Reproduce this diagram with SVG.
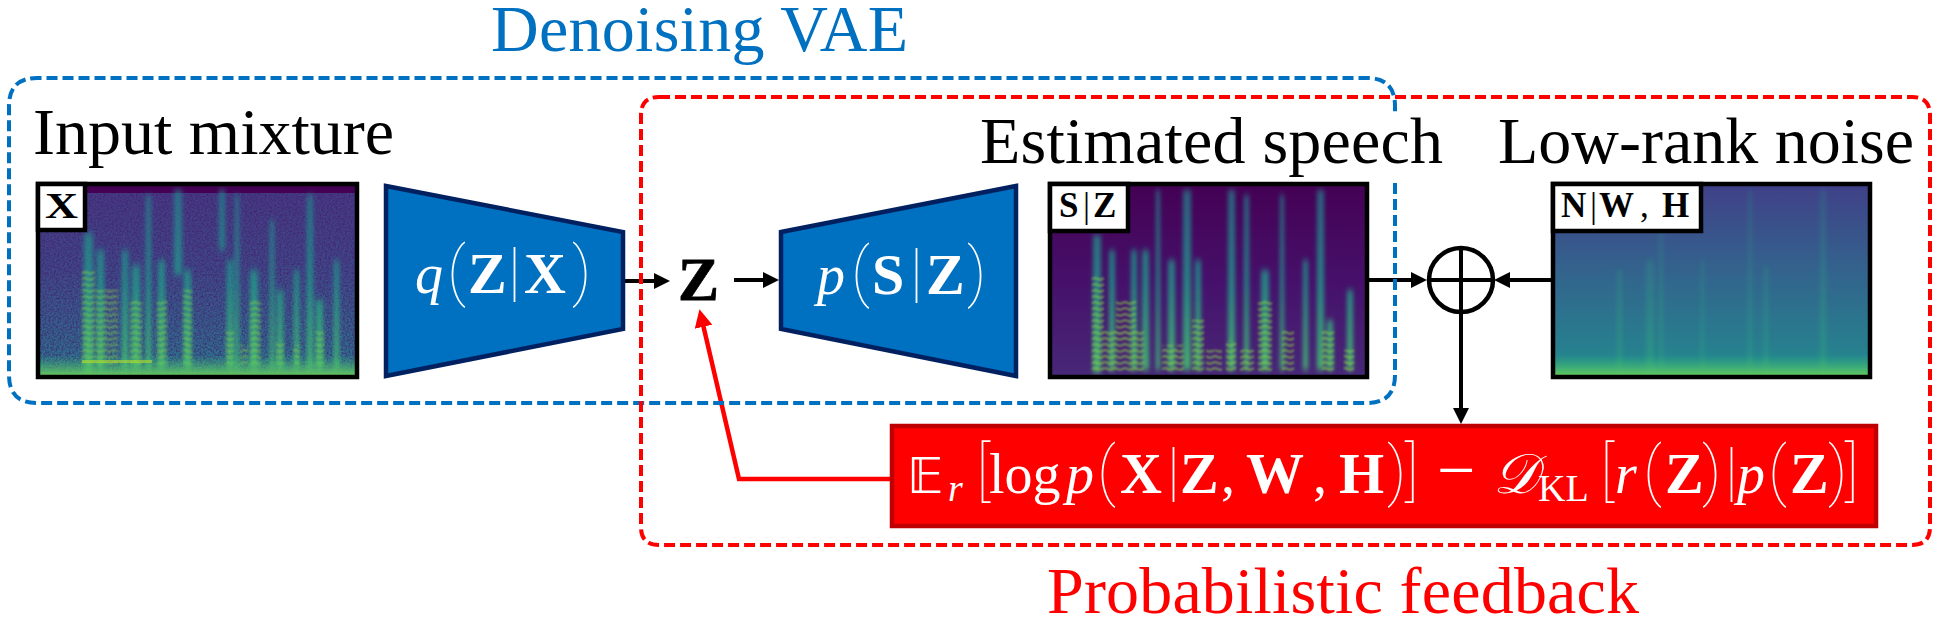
<svg xmlns="http://www.w3.org/2000/svg" width="1938" height="622" viewBox="0 0 1938 622">
<style>
text{font-family:"Liberation Serif","DejaVu Serif",serif}
.t{font-size:66px}
.m{font-size:56px;fill:#fff}
.i{font-style:italic}
.b{font-weight:bold;font-size:58px}
.p{font-family:Roboto,"Liberation Serif",sans-serif;font-weight:100;font-size:64px}
.l{font-size:35px;font-weight:bold}
.frame{fill:none;stroke:#000;stroke-width:4.5}
.tag{fill:#fff;stroke:#000;stroke-width:4.5}
.enc{fill:#0070c0;stroke:#002060;stroke-width:4.5}
.wire{fill:none;stroke:#000;stroke-width:4}
.dash{fill:none;stroke-width:4;stroke-dasharray:11 5}
.s{fill:url(#st)}
.w{fill:url(#st2)}
.h{fill:url(#harm)}
</style>
<defs>
<marker id="ah" markerUnits="userSpaceOnUse" markerWidth="18" markerHeight="18" refX="8" refY="8" orient="auto"><path d="M0,0L16,8L0,16Z" fill="#000"/></marker>
<marker id="ar" markerUnits="userSpaceOnUse" markerWidth="22" markerHeight="20" refX="9" refY="9" orient="auto"><path d="M0,0L18,9L0,18Z" fill="#f00"/></marker>
<linearGradient id="bg1" x1="0" y1="0" x2="0" y2="1"><stop offset="0" stop-color="#443a83"/><stop offset=".45" stop-color="#3e4a89"/><stop offset=".85" stop-color="#2f6c8e"/><stop offset="1" stop-color="#25858e"/></linearGradient>
<linearGradient id="bg2" x1="0" y1="0" x2="0" y2="1"><stop offset="0" stop-color="#440154"/><stop offset=".5" stop-color="#46106a"/><stop offset="1" stop-color="#472878"/></linearGradient>
<linearGradient id="bg3" x1="0" y1="0" x2="0" y2="1"><stop offset="0" stop-color="#404088"/><stop offset=".45" stop-color="#33638d"/><stop offset=".85" stop-color="#277f8e"/><stop offset="1" stop-color="#1f968b"/></linearGradient>
<linearGradient id="st" gradientUnits="userSpaceOnUse" x1="0" y1="184" x2="0" y2="377"><stop offset="0" stop-color="#26828e" stop-opacity=".7"/><stop offset=".5" stop-color="#1f9a8a" stop-opacity=".8"/><stop offset="1" stop-color="#4ac16d" stop-opacity=".9"/></linearGradient>
<linearGradient id="st2" gradientUnits="userSpaceOnUse" x1="0" y1="184" x2="0" y2="377"><stop offset="0" stop-color="#2a788e" stop-opacity=".8"/><stop offset="1" stop-color="#35b779" stop-opacity=".8"/></linearGradient>
<linearGradient id="band" x1="0" y1="0" x2="0" y2="1"><stop offset="0" stop-color="#35b779" stop-opacity="0"/><stop offset="1" stop-color="#6ece58"/></linearGradient>
<pattern id="harm" width="10" height="6" patternUnits="userSpaceOnUse"><path d="M0,4L5,2L10,4" fill="none" stroke="#8fd744" stroke-width="1.800"/></pattern>
<filter id="blur" x="-100%" y="-10%" width="300%" height="120%"><feGaussianBlur stdDeviation="2.2 3"/></filter>
<filter id="soft" x="-20%" y="-5%" width="140%" height="110%"><feGaussianBlur stdDeviation=".8"/></filter>
<filter id="noise" x="0" y="0" width="100%" height="100%" color-interpolation-filters="sRGB"><feTurbulence type="fractalNoise" baseFrequency=".55" numOctaves="2" seed="4"/><feColorMatrix type="matrix" values="0 0 0 0 .27  0 0 0 0 .1  0 0 0 0 .42  1.6 0 0 0 -.55"/></filter>
<clipPath id="c1"><rect x="38" y="184" width="319" height="193"/></clipPath>
<clipPath id="c2"><rect x="1050" y="184" width="317" height="193"/></clipPath>
<clipPath id="c3"><rect x="1553" y="184" width="317" height="193"/></clipPath>
</defs>

<g id="connectors">
<path class="wire" d="M624,281H662" marker-end="url(#ah)"/>
<path class="wire" d="M734,280H771" marker-end="url(#ah)"/>
<path class="wire" d="M1369,280H1419" marker-end="url(#ah)"/>
<path class="wire" d="M1551,280H1502" marker-end="url(#ah)"/>
<path class="wire" d="M1461,313V416" marker-end="url(#ah)"/>
<path d="M890,479H739L701.500,318" fill="none" stroke="#f00" stroke-width="4.500" marker-end="url(#ar)"/>
</g>

<g id="denoising-vae">
<path class="dash" stroke="#0070c0" d="M1395,183V375Q1395,403 1367,403H37Q9,403 9,375V106Q9,78 37,78H1367Q1395,78 1395,106V115"/>
<text class="t" x="491" y="51" fill="#0070c0" textLength="417">Denoising VAE</text>
</g>

<g id="probabilistic-feedback">
<path class="dash" stroke="#f00" d="M659,97H1912Q1930,97 1930,115V527Q1930,545 1912,545H659Q641,545 641,527V115Q641,97 659,97Z"/>
<text class="t" x="1047" y="613" fill="#f00" textLength="592">Probabilistic feedback</text>
</g>

<g id="input-mixture">
<text class="t" x="33" y="154">Input mixture</text>
<g clip-path="url(#c1)">
<rect x="38" y="184" width="319" height="193" fill="url(#bg1)"/>
<rect x="38" y="184" width="319" height="193" filter="url(#noise)"/>
<rect x="38" y="186" width="319" height="7" fill="#440154"/>
<g filter="url(#blur)">
<rect class="s" x="84" y="233" width="9" height="140"/><rect class="s" x="97" y="250" width="7" height="120"/><rect class="s" x="122" y="250" width="6" height="120"/><rect class="s" x="132" y="265" width="8" height="105"/><rect class="s" x="146" y="195" width="5" height="175"/><rect class="s" x="158" y="260" width="7" height="110"/><rect class="s" x="174" y="190" width="8" height="85"/><rect class="s" x="184" y="270" width="7" height="100"/><rect class="s" x="219" y="190" width="6" height="60"/><rect class="s" x="227" y="260" width="6" height="110"/><rect class="s" x="235" y="195" width="4" height="175"/><rect class="s" x="250" y="270" width="8" height="100"/><rect class="s" x="270" y="220" width="4" height="150"/><rect class="s" x="277" y="290" width="6" height="80"/><rect class="s" x="294" y="270" width="5" height="100"/><rect class="s" x="307" y="195" width="6" height="175"/><rect class="s" x="316" y="300" width="7" height="70"/><rect class="s" x="334" y="260" width="5" height="110"/>
</g>
<g filter="url(#soft)" opacity=".65">
<rect class="h" x="82" y="270" width="13" height="95"/><rect class="h" x="96" y="290" width="22" height="75"/><rect class="h" x="130" y="300" width="12" height="65"/><rect class="h" x="157" y="300" width="10" height="65"/><rect class="h" x="183" y="290" width="9" height="75"/><rect class="h" x="226" y="330" width="8" height="35"/><rect class="h" x="240" y="345" width="8" height="20"/><rect class="h" x="250" y="300" width="11" height="65"/><rect class="h" x="276" y="340" width="8" height="25"/><rect class="h" x="294" y="345" width="6" height="20"/><rect class="h" x="316" y="330" width="8" height="35"/>
</g>
<rect x="38" y="355" width="319" height="22" fill="url(#band)"/>
<rect x="82" y="360" width="70" height="3" fill="#b5de2b" opacity=".6"/>
</g>
<rect class="frame" x="38" y="184" width="319" height="193"/>
<rect class="tag" x="38" y="184" width="47" height="46"/>
<text class="l" x="45" y="218" textLength="33" lengthAdjust="spacingAndGlyphs">X</text>
</g>

<g id="encoder">
<polygon class="enc" points="386,186 623,232 623,329 386,376"/>
<text class="m" y="293"><tspan class="i" x="415">q</tspan><tspan class="p" x="447">(</tspan><tspan class="b" x="468">Z</tspan><tspan class="p" x="508">|</tspan><tspan class="b" x="524">X</tspan><tspan class="p" x="572">)</tspan></text>
</g>

<g id="latent-z">
<text x="678" y="300" font-size="62" font-weight="bold" textLength="41" lengthAdjust="spacingAndGlyphs" stroke="#000" stroke-width=".8">Z</text>
</g>

<g id="decoder">
<polygon class="enc" points="781,232 1016,186 1016,376 781,329"/>
<text class="m" y="294"><tspan class="i" x="817">p</tspan><tspan class="p" x="851">(</tspan><tspan class="b" x="872">S</tspan><tspan class="p" x="910">|</tspan><tspan class="b" x="926">Z</tspan><tspan class="p" x="967">)</tspan></text>
</g>

<g id="estimated-speech">
<text class="t" x="980" y="163" textLength="463">Estimated speech</text>
<g clip-path="url(#c2)">
<rect x="1050" y="184" width="317" height="193" fill="url(#bg2)"/>
<g filter="url(#blur)">
<rect class="s" x="1093" y="235" width="8" height="138"/><rect class="s" x="1109" y="250" width="6" height="120"/><rect class="s" x="1131" y="250" width="6" height="120"/><rect class="s" x="1142" y="250" width="7" height="120"/><rect class="s" x="1156" y="190" width="4" height="180"/><rect class="s" x="1168" y="260" width="7" height="110"/><rect class="s" x="1183" y="190" width="8" height="180"/><rect class="s" x="1195" y="260" width="6" height="110"/><rect class="s" x="1228" y="190" width="7" height="180"/><rect class="s" x="1244" y="195" width="5" height="175"/><rect class="s" x="1261" y="270" width="8" height="100"/><rect class="s" x="1280" y="195" width="4" height="175"/><rect class="s" x="1303" y="260" width="5" height="110"/><rect class="s" x="1317" y="190" width="7" height="180"/><rect class="s" x="1327" y="320" width="6" height="50"/><rect class="s" x="1347" y="290" width="6" height="80"/>
</g>
<g filter="url(#soft)" opacity=".75">
<rect class="h" x="1092" y="275" width="12" height="95"/><rect class="h" x="1104" y="330" width="40" height="42"/><rect class="h" x="1116" y="300" width="20" height="40"/><rect class="h" x="1162" y="345" width="22" height="27"/><rect class="h" x="1192" y="320" width="12" height="52"/><rect class="h" x="1206" y="350" width="16" height="22"/><rect class="h" x="1226" y="340" width="10" height="32"/><rect class="h" x="1240" y="350" width="14" height="22"/><rect class="h" x="1258" y="300" width="14" height="72"/><rect class="h" x="1282" y="330" width="12" height="42"/><rect class="h" x="1322" y="330" width="12" height="42"/><rect class="h" x="1344" y="350" width="10" height="22"/>
</g>
</g>
<rect class="frame" x="1050" y="184" width="317" height="193"/>
<rect class="tag" x="1050" y="184" width="78" height="47"/>
<text class="l" y="217"><tspan x="1059">S</tspan><tspan font-weight="normal" x="1083">|</tspan><tspan x="1093">Z</tspan></text>
</g>

<g id="low-rank-noise">
<text class="t" x="1498" y="163">Low-rank noise</text>
<g clip-path="url(#c3)">
<rect x="1553" y="184" width="317" height="193" fill="url(#bg3)"/>
<g filter="url(#blur)" opacity=".45">
<rect class="w" x="1617" y="270" width="5" height="100"/><rect class="w" x="1646" y="260" width="8" height="110"/><rect class="w" x="1659" y="230" width="4" height="140"/><rect class="w" x="1701" y="260" width="3" height="110"/><rect class="w" x="1748" y="190" width="4" height="180"/><rect class="w" x="1764" y="265" width="4" height="105"/><rect class="w" x="1820" y="190" width="6" height="180"/>
</g>
<rect x="1553" y="355" width="317" height="22" fill="url(#band)"/>
</g>
<rect class="frame" x="1553" y="184" width="317" height="193"/>
<rect class="tag" x="1553" y="184" width="148" height="47"/>
<text class="l" y="217"><tspan x="1561">N</tspan><tspan font-weight="normal" x="1590">|</tspan><tspan x="1599">W</tspan><tspan font-weight="normal" x="1640">,</tspan><tspan x="1662">H</tspan></text>
</g>

<g id="mixer">
<circle cx="1461" cy="280" r="32" fill="none" stroke="#000" stroke-width="4.500"/>
<path class="wire" d="M1429,280H1493M1461,248V312"/>
</g>

<g id="elbo">
<rect x="892" y="426" width="984" height="100" fill="#f00" stroke="#c00000" stroke-width="4.500"/>
<text class="m" y="493"><tspan font-family="DejaVu Sans" font-size="50" x="907">𝔼</tspan><tspan class="i" font-size="38" x="948" y="501">r</tspan><tspan class="p" x="976" y="493">[</tspan><tspan x="989">log</tspan><tspan class="i" x="1066">p</tspan><tspan class="p" x="1097">(</tspan><tspan class="b" x="1120">X</tspan><tspan class="p" x="1167">|</tspan><tspan class="b" x="1180">Z</tspan><tspan x="1221">,</tspan><tspan class="b" x="1246">W</tspan><tspan x="1313">,</tspan><tspan class="b" x="1339">H</tspan><tspan class="p" x="1387">)</tspan><tspan class="p" x="1405">]</tspan><tspan font-size="68" x="1437">−</tspan><tspan class="i" x="1493">𝒟</tspan><tspan font-size="38" x="1538" y="501">KL</tspan><tspan class="p" x="1600" y="493">[</tspan><tspan class="i" x="1615">r</tspan><tspan class="p" x="1643">(</tspan><tspan class="b" x="1665">Z</tspan><tspan class="p" x="1702">)</tspan><tspan class="p" x="1725">|</tspan><tspan class="i" x="1737">p</tspan><tspan class="p" x="1768">(</tspan><tspan class="b" x="1790">Z</tspan><tspan class="p" x="1828">)</tspan><tspan class="p" x="1845">]</tspan></text>
</g>
</svg>
